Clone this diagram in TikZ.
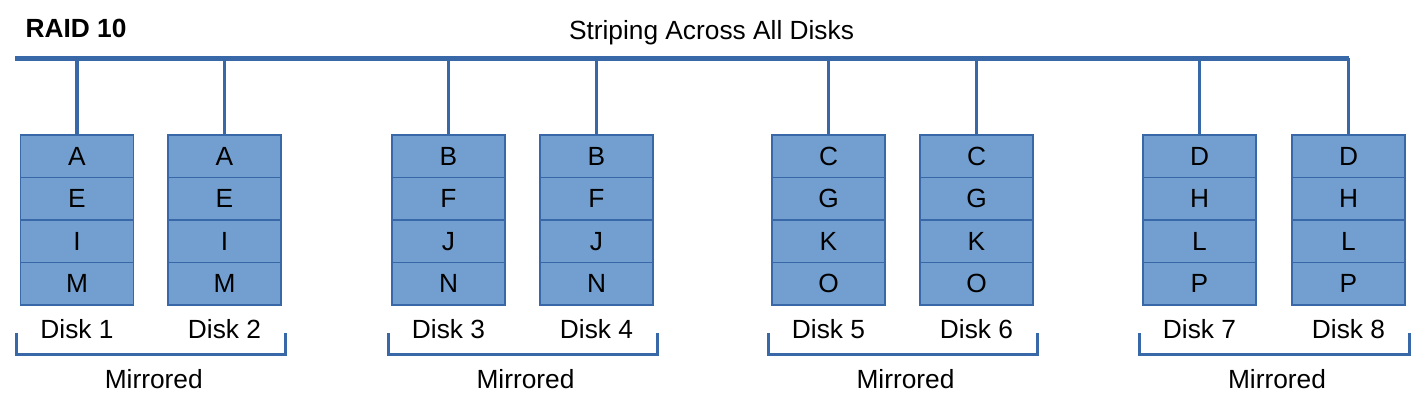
\documentclass[tikz,border=0pt]{standalone}
\usepackage{fontspec}
\setmainfont{Liberation Sans}
\usetikzlibrary{calc}
\definecolor{diskfill}{RGB}{114,159,207}
\definecolor{diskline}{RGB}{56,104,168}

\begin{document}
\begin{tikzpicture}[x=1pt, y=-1pt,
    font=\fontsize{26.3}{30}\selectfont,
    cell/.style={draw=diskline, fill=diskfill, line width=1.3pt,
        minimum width=113pt, minimum height=42.5pt, inner sep=0pt, outer sep=0pt},
    bus/.style={draw=diskline, line width=4.5pt},
    drop/.style={draw=diskline, line width=3.5pt},
    brace/.style={draw=diskline, line width=3pt}]
    \useasboundingbox (0,0) rectangle (1428,404);

    % Titulos
    \node[anchor=base, font=\fontsize{26.3}{30}\selectfont\bfseries] (title) at (76,37.5) {RAID 10};
    \node[anchor=base] (stripe) at (711.5,39.5) {Striping Across All Disks};

    % Discos
    \foreach \i/\cx/\a/\b/\c/\d in {1/77/A/E/I/M, 2/224.5/A/E/I/M,
                                     3/448.5/B/F/J/N, 4/596.5/B/F/J/N,
                                     5/828.5/C/G/K/O, 6/976.5/C/G/K/O,
                                     7/1199.5/D/H/L/P, 8/1348.5/D/H/L/P} {
        \foreach \l [count=\j] in {\a,\b,\c,\d}
            \node[cell] (d\i-\j) at (\cx, 113.75+42.5*\j) {\l};
        \node[anchor=base] (lab\i) at (\cx, 338.3) {Disk \i};
    }

    % Bus
    \coordinate (bus-l) at (15,58.5);
    \draw[bus] (bus-l) -- (d8-1.north |- bus-l);
    \foreach \i in {1,...,8}
        \draw[drop] (d\i-1.north |- bus-l) -- (d\i-1.north);

    % Espejos
    \foreach \a/\b/\g in {1/2/1, 3/4/2, 5/6/3, 7/8/4} {
        \draw[brace] ($(d\a-4.south west)+(-4,28)$) -- ++(0,21) -| ($(d\b-4.south east)+(4,28)$);
        \node[anchor=base] (mir\g) at ($(d\a-4.south west)!0.5!(d\b-4.south east)+(3,83.3)$) {Mirrored};
    }
\end{tikzpicture}
\end{document}
